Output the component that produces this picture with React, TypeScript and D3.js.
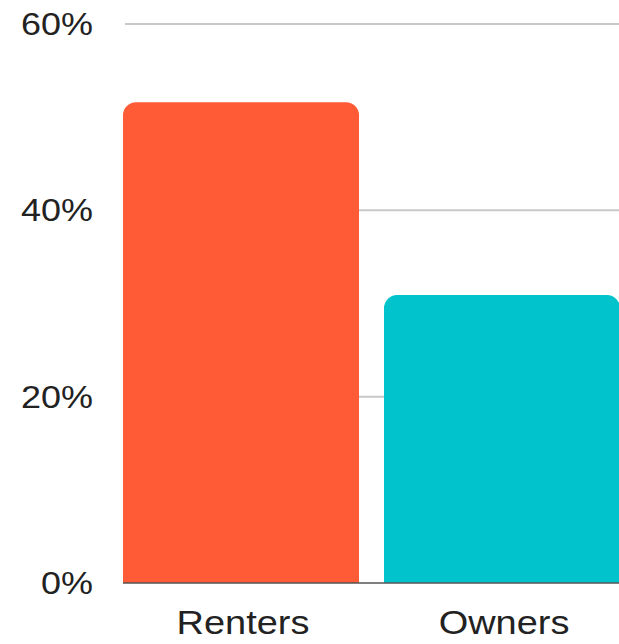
import React from "react";
import * as d3 from "d3";

const categories = ["Renters", "Owners"];
const values = [51.6, 30.9];
const colors = ["#FF5B36", "#00C3CB"];
const yTicks = [0, 20, 40, 60];

const W = 619;
const H = 644;

export default function App() {
  const x = d3
    .scaleBand<string>()
    .domain(categories)
    .range([110.5, 632.5])
    .paddingInner(25 / 261)
    .paddingOuter(12.5 / 261);
  const y = d3.scaleLinear().domain([0, 60]).range([583, 24]);
  const r = 13;

  const barPath = (x0: number, w: number, top: number, bottom: number) => {
    const p = d3.path();
    p.moveTo(x0, bottom);
    p.lineTo(x0, top + r);
    p.arcTo(x0, top, x0 + r, top, r);
    p.lineTo(x0 + w - r, top);
    p.arcTo(x0 + w, top, x0 + w, top + r, r);
    p.lineTo(x0 + w, bottom);
    p.closePath();
    return p.toString();
  };

  const font = "'Liberation Sans', Arial, sans-serif";

  return (
    <svg
      width={W}
      height={H}
      style={{ position: "absolute", left: 0, top: 0, background: "#fff" }}
    >
      {yTicks
        .filter((t) => t > 0)
        .map((t) => (
          <line
            key={t}
            x1={125}
            x2={W}
            y1={y(t)}
            y2={y(t)}
            stroke="#c9c9c9"
            strokeWidth={2}
          />
        ))}
      {categories.map((c, i) => (
        <path
          key={c}
          d={barPath(x(c)!, x.bandwidth(), y(values[i]), y(0))}
          fill={colors[i]}
        />
      ))}
      <line x1={123} x2={W} y1={y(0)} y2={y(0)} stroke="#555" strokeWidth={1.5} />
      {yTicks.map((t) => (
        <text
          key={t}
          transform={`translate(93,${y(t) + 11}) scale(1.18,1)`}
          textAnchor="end"
          fontFamily={font}
          fontSize={30.5}
          fill="#222"
        >
          {t}%
        </text>
      ))}
      {categories.map((c) => (
        <text
          key={c}
          transform={`translate(${x(c)! + x.bandwidth() / 2 + 2},634) scale(1.15,1)`}
          textAnchor="middle"
          fontFamily={font}
          fontSize={33}
          fill="#222"
        >
          {c}
        </text>
      ))}
    </svg>
  );
}
